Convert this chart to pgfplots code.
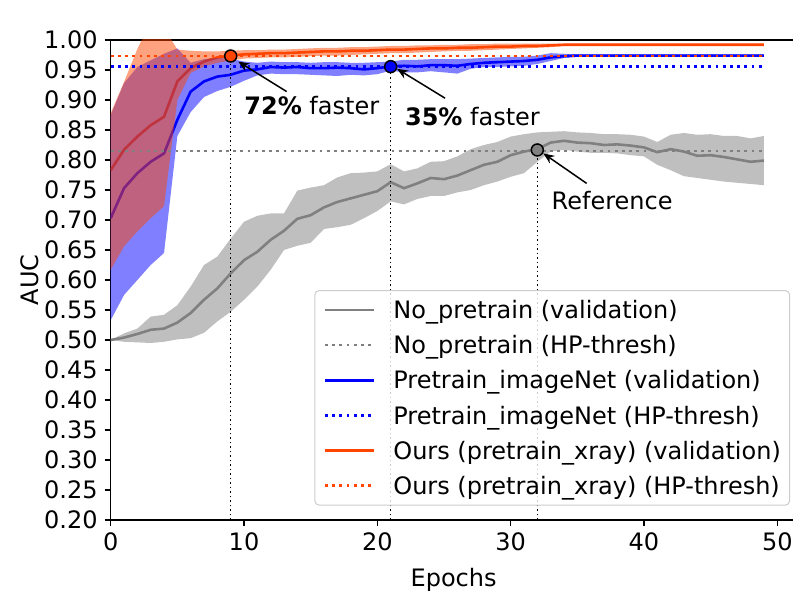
\documentclass[border=0pt]{standalone}
\usepackage{pgfplots}
\usepackage{pgfplotstable}
\pgfplotsset{compat=1.18}
\usepgfplotslibrary{fillbetween}
\usetikzlibrary{arrows.meta}
\usepackage{fontspec}
\setmainfont{DejaVu Sans}
\definecolor{orangered}{RGB}{255,69,0}
\definecolor{mgray}{RGB}{128,128,128}
\newcommand{\fs}{\fontsize{12bp}{14.4bp}\selectfont}

\pgfplotstableread{
e g gl gu b bl bu o ol ou
0 0.500 0.500 0.500 0.703 0.533 0.875 0.783 0.617 0.878
1 0.504 0.497 0.511 0.753 0.575 0.928 0.817 0.656 0.930
2 0.510 0.496 0.519 0.778 0.600 0.955 0.839 0.681 0.985
3 0.517 0.495 0.539 0.797 0.625 0.966 0.858 0.703 1.030
4 0.519 0.497 0.542 0.811 0.645 0.977 0.872 0.723 1.020
5 0.529 0.501 0.558 0.867 0.840 0.986 0.931 0.900 0.984
6 0.545 0.503 0.589 0.914 0.880 0.962 0.953 0.945 0.982
7 0.567 0.512 0.625 0.931 0.905 0.968 0.964 0.956 0.981
8 0.586 0.531 0.639 0.939 0.915 0.970 0.971 0.962 0.981
9 0.611 0.547 0.669 0.942 0.922 0.969 0.974 0.966 0.982
10 0.633 0.567 0.697 0.949 0.932 0.964 0.976 0.969 0.983
11 0.647 0.589 0.707 0.951 0.941 0.962 0.977 0.970 0.983
12 0.667 0.617 0.711 0.955 0.944 0.964 0.978 0.971 0.984
13 0.682 0.650 0.711 0.954 0.943 0.963 0.978 0.971 0.984
14 0.702 0.657 0.749 0.955 0.943 0.963 0.979 0.972 0.985
15 0.708 0.662 0.754 0.953 0.942 0.962 0.980 0.973 0.986
16 0.721 0.685 0.758 0.953 0.941 0.963 0.981 0.974 0.987
17 0.730 0.688 0.771 0.954 0.940 0.963 0.981 0.974 0.987
18 0.736 0.692 0.778 0.953 0.942 0.962 0.982 0.975 0.988
19 0.742 0.703 0.779 0.951 0.941 0.962 0.982 0.976 0.988
20 0.748 0.715 0.781 0.953 0.943 0.963 0.983 0.977 0.989
21 0.763 0.731 0.793 0.956 0.949 0.964 0.984 0.978 0.990
22 0.753 0.726 0.781 0.957 0.946 0.967 0.984 0.978 0.990
23 0.761 0.735 0.786 0.956 0.946 0.967 0.985 0.979 0.991
24 0.770 0.740 0.797 0.958 0.948 0.968 0.986 0.980 0.991
25 0.768 0.740 0.798 0.958 0.946 0.968 0.986 0.981 0.992
26 0.774 0.746 0.806 0.957 0.944 0.968 0.987 0.982 0.992
27 0.783 0.750 0.818 0.960 0.952 0.969 0.987 0.982 0.993
28 0.792 0.758 0.825 0.962 0.955 0.970 0.988 0.983 0.993
29 0.797 0.764 0.830 0.963 0.955 0.971 0.989 0.984 0.994
30 0.808 0.772 0.839 0.964 0.956 0.972 0.989 0.985 0.994
31 0.814 0.778 0.843 0.965 0.957 0.972 0.990 0.986 0.994
32 0.818 0.797 0.846 0.967 0.960 0.974 0.990 0.987 0.994
33 0.829 0.814 0.847 0.971 0.965 0.978 0.991 0.988 0.994
34 0.832 0.817 0.848 0.973 0.970 0.977 0.992 0.990 0.994
35 0.829 0.814 0.846 0.974 0.972 0.976 0.992 0.990 0.994
36 0.828 0.812 0.845 0.974 0.972 0.976 0.992 0.990 0.994
37 0.825 0.812 0.843 0.974 0.972 0.976 0.992 0.990 0.994
38 0.826 0.811 0.843 0.974 0.972 0.976 0.992 0.990 0.994
39 0.824 0.808 0.842 0.974 0.972 0.976 0.992 0.990 0.994
40 0.821 0.806 0.839 0.974 0.972 0.976 0.992 0.990 0.994
41 0.813 0.792 0.830 0.974 0.972 0.976 0.992 0.990 0.994
42 0.818 0.783 0.842 0.974 0.972 0.976 0.992 0.990 0.994
43 0.814 0.773 0.845 0.974 0.972 0.976 0.992 0.990 0.994
44 0.807 0.770 0.842 0.974 0.972 0.976 0.992 0.990 0.994
45 0.808 0.767 0.843 0.974 0.972 0.976 0.992 0.990 0.994
46 0.805 0.764 0.840 0.974 0.972 0.976 0.992 0.990 0.994
47 0.801 0.762 0.840 0.974 0.972 0.976 0.992 0.990 0.994
48 0.797 0.760 0.836 0.974 0.972 0.976 0.992 0.990 0.994
49 0.799 0.758 0.840 0.974 0.972 0.976 0.992 0.990 0.994
}\data

\begin{document}
\begin{tikzpicture}
\begin{axis}[
  name=ax,
  scale only axis,
  width=341.15bp, height=240bp,
  xmin=0, xmax=51.18, ymin=0.2, ymax=1.0,
  axis x line*=box, axis y line*=left,
  axis line style={line width=0.7bp, black},
  xtick={0,10,20,30,40,50},
  ytick={0.20,0.25,0.30,0.35,0.40,0.45,0.50,0.55,0.60,0.65,0.70,0.75,0.80,0.85,0.90,0.95,1.00},
  xtick pos=left, ytick pos=left,
  tick align=outside,
  major tick length=3bp,
  every tick/.style={black, line width=0.7bp},
  /pgf/number format/assume math mode=true,
  tick label style={font=\fs},
  yticklabel style={/pgf/number format/.cd, fixed, fixed zerofill, precision=2},
  xlabel={Epochs}, ylabel={AUC},
  xlabel style={font=\fs, at={(axis description cs:0.5026,-0.1396)}, anchor=base},
  ylabel style={font=\fs, at={(axis description cs:-0.1183,0.5)}, anchor=center},
  fill between/on layer=main,
  legend cell align=left,
  legend image code/.code={\draw[#1] (0bp,0bp) -- (24.5bp,0bp);},
  legend style={
    at={(axis description cs:1,0)}, anchor=south east, xshift=-1.5bp, yshift=7.2bp,
    draw=black!20, line width=0.5bp, rounded corners=2bp, fill=white, fill opacity=0.8, text opacity=1,
    font=\fs, inner xsep=4.3bp, inner ysep=3.2bp, row sep=4.8bp,
    nodes={inner sep=0pt, text height=10.7bp, text depth=2.1bp},
    /tikz/every odd column/.append style={column sep=9bp},
  },
]
% No_pretrain band + line
\addplot[name path=gu, draw=none, forget plot] table[x=e,y=gu]{\data};
\addplot[name path=gl, draw=none, forget plot] table[x=e,y=gl]{\data};
\addplot[fill=mgray, fill opacity=0.5, draw=none, forget plot] fill between[of=gu and gl];
\addplot[mgray, line width=1.3bp, forget plot] table[x=e,y=g]{\data};
% Ours line (drawn under the bands)
\addplot[orangered, line width=1.3bp, forget plot] table[x=e,y=o]{\data};
% imageNet band + line
\addplot[name path=bu, draw=none, forget plot] table[x=e,y=bu]{\data};
\addplot[name path=bl, draw=none, forget plot] table[x=e,y=bl]{\data};
\addplot[fill=blue, fill opacity=0.5, draw=none, forget plot] fill between[of=bu and bl];
\addplot[blue, line width=1.3bp, forget plot] table[x=e,y=b]{\data};
% Ours band
\addplot[name path=ou, draw=none, forget plot] table[x=e,y=ou]{\data};
\addplot[name path=ol, draw=none, forget plot] table[x=e,y=ol]{\data};
\addplot[fill=orangered, fill opacity=0.5, draw=none, forget plot] fill between[of=ou and ol];
% HP thresholds
\addplot[mgray, line width=1.4bp, dash pattern=on 1.4bp off 2.2bp, forget plot] coordinates {(0,0.815) (49,0.815)};
\addplot[blue, line width=1.4bp, dash pattern=on 1.4bp off 2.2bp, forget plot] coordinates {(0,0.9556) (49,0.9556)};
\addplot[orangered, line width=1.4bp, dash pattern=on 1.4bp off 2.2bp, forget plot] coordinates {(0,0.9733) (49,0.9733)};
% vertical markers
\addplot[black, line width=0.75bp, dash pattern=on 0.75bp off 1.5bp, forget plot] coordinates {(9,0.2) (9,0.9733)};
\addplot[black, line width=0.75bp, dash pattern=on 0.75bp off 1.5bp, forget plot] coordinates {(21,0.2) (21,0.9556)};
\addplot[black, line width=0.75bp, dash pattern=on 0.75bp off 1.5bp, forget plot] coordinates {(32,0.2) (32,0.8167)};
\addplot[only marks, mark=*, mark size=3bp, mark options={fill=orangered, draw=black, line width=0.75bp}, forget plot] coordinates {(9,0.9733)};
\addplot[only marks, mark=*, mark size=3bp, mark options={fill=blue, draw=black, line width=0.75bp}, forget plot] coordinates {(21,0.9556)};
\addplot[only marks, mark=*, mark size=3bp, mark options={fill=mgray, draw=black, line width=0.75bp}, forget plot] coordinates {(32,0.8167)};
% annotations
\draw[-{Stealth[length=5.5bp,width=4.5bp]}, line width=0.75bp] (axis cs:13.2,0.914) -- (axis cs:9.57,0.964);
\draw[-{Stealth[length=5.5bp,width=4.5bp]}, line width=0.75bp] (axis cs:25.08,0.903) -- (axis cs:21.48,0.952);
\draw[-{Stealth[length=5.5bp,width=4.5bp]}, line width=0.75bp] (axis cs:35.7,0.761) -- (axis cs:32.45,0.811);
\node[font=\fs, anchor=base west, inner sep=0pt] at (axis cs:10.0,0.875) {\textbf{72\%} faster};
\node[font=\fs, anchor=base west, inner sep=0pt] at (axis cs:22.05,0.857) {\textbf{35\%} faster};
\node[font=\fs, anchor=base west, inner sep=0pt] at (axis cs:33.05,0.7167) {Reference};
% title
\node[font=\fontsize{12.5bp}{15bp}\selectfont, anchor=base, inner sep=0pt] at (axis description cs:0.5026,1.027) {Pneumothorax};
% legend
\addlegendimage{mgray, line width=1.3bp}
\addlegendentry{No\_pretrain (validation)}
\addlegendimage{mgray, line width=1.4bp, dash pattern=on 1.4bp off 2.2bp}
\addlegendentry{No\_pretrain (HP-thresh)}
\addlegendimage{blue, line width=1.3bp}
\addlegendentry{Pretrain\_imageNet (validation)}
\addlegendimage{blue, line width=1.4bp, dash pattern=on 1.4bp off 2.2bp}
\addlegendentry{Pretrain\_imageNet (HP-thresh)}
\addlegendimage{orangered, line width=1.3bp}
\addlegendentry{Ours (pretrain\_xray) (validation)}
\addlegendimage{orangered, line width=1.4bp, dash pattern=on 1.4bp off 2.2bp}
\addlegendentry{Ours (pretrain\_xray) (HP-thresh)}
\end{axis}
\pgfresetboundingbox
\path[use as bounding box] ([xshift=-55.35bp,yshift=-38.5bp]ax.south west) rectangle ([yshift=20bp]ax.north east);
\end{tikzpicture}
\end{document}
